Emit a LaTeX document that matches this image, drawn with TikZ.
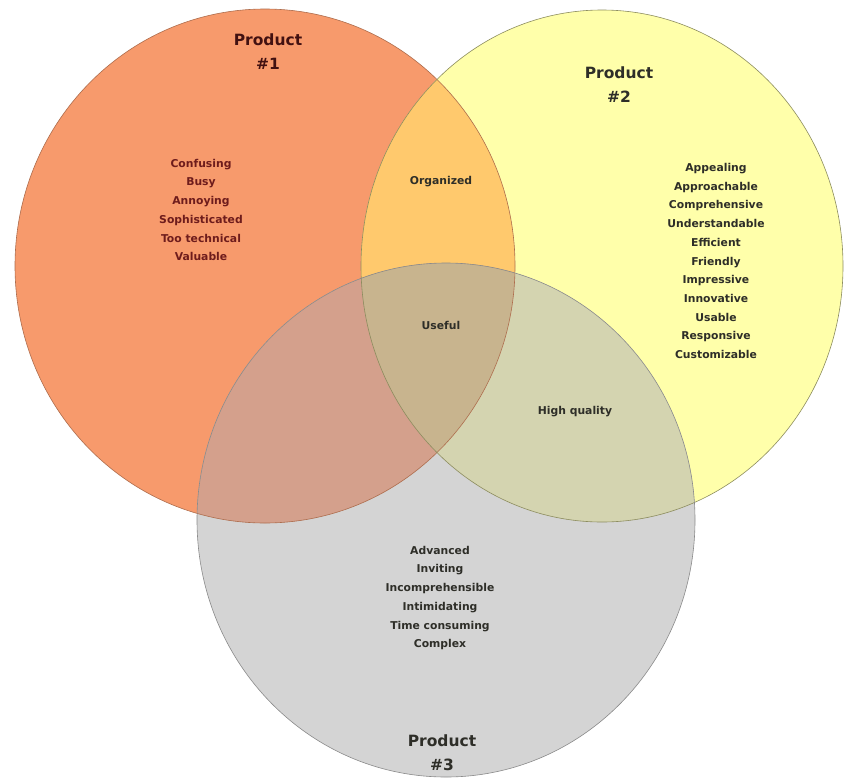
\documentclass[tikz,border=0pt]{standalone}
\usepackage{fontspec}
\setmainfont{DejaVu Sans}
\usepackage{tikz}
\usetikzlibrary{positioning}
\definecolor{prodA}{HTML}{F79A6C}
\definecolor{prodB}{HTML}{FFFFAA}
\definecolor{prodC}{HTML}{D4D4D4}
\definecolor{prodAB}{HTML}{FFC96D}
\definecolor{prodAC}{HTML}{D4A08C}
\definecolor{prodBC}{HTML}{D4D4B0}
\definecolor{prodABC}{HTML}{C8B48E}
\definecolor{wordsA}{HTML}{6E1C1C}
\definecolor{wordsX}{HTML}{2E2E28}
\newcommand{\circA}{(265,266) ellipse [x radius=250pt, y radius=257pt]}
\newcommand{\circB}{(602,266) ellipse [x radius=241pt, y radius=256pt]}
\newcommand{\circC}{(446,520) ellipse [x radius=249pt, y radius=257pt]}

\begin{document}
\begin{tikzpicture}[x=1pt, y=-1pt,
				title/.style={font=\fontsize{15.5}{24}\selectfont\bfseries, align=center, text=wordsX},
				words/.style={font=\fontsize{10.8}{18.7}\selectfont\bfseries, align=center, text=wordsX},
				rim/.style={line width=0.6pt}]
				\useasboundingbox (0,0) rectangle (848,782);
				% the three products
				\fill[prodA] \circA;
				\fill[prodB] \circB;
				\fill[prodC] \circC;
				% overlaps
				\begin{scope}
					\clip \circA;
					\fill[prodAB] \circB;
					\fill[prodAC] \circC;
					\clip \circB;
					\fill[prodABC] \circC;
				\end{scope}
				\begin{scope}
					\clip \circB;
					\clip \circC;
					\begin{scope}[even odd rule]
						\clip \circA (0,0) rectangle (848,782);
						\fill[prodBC] \circC;
					\end{scope}
				\end{scope}
				\draw[rim, draw=prodA!70!black] \circA;
				\draw[rim, draw=prodB!55!black] \circB;
				\draw[rim, draw=prodC!65!black] \circC;
				
				\node[title, text=wordsA!60!black](prod1) at (268, 52) {Product\\\#1};
				\node[title](prod2) at (619, 85) {Product\\\#2};
				\node[title](prod3) at (442, 753) {Product\\\#3};
				
				\node[words, text=wordsA](words1) at (201, 210) {Confusing\\Busy\\Annoying\\Sophisticated\\Too technical\\Valuable};
				\node[words](words2) at (716, 261) {Appealing\\Approachable\\Comprehensive\\Understandable\\Efficient\\Friendly\\Impressive\\Innovative\\Usable\\Responsive\\Customizable};
				\node[words](words3) at (440, 598) {Advanced\\Inviting\\Incomprehensible\\Intimidating\\Time consuming\\Complex};
				
				\node[words](words12) at (441, 182) {Organized};
				\node[words](words123) at (441, 325) {Useful};
				\node[words](words23) at (575, 412) {High quality};
			\end{tikzpicture}
\end{document}
